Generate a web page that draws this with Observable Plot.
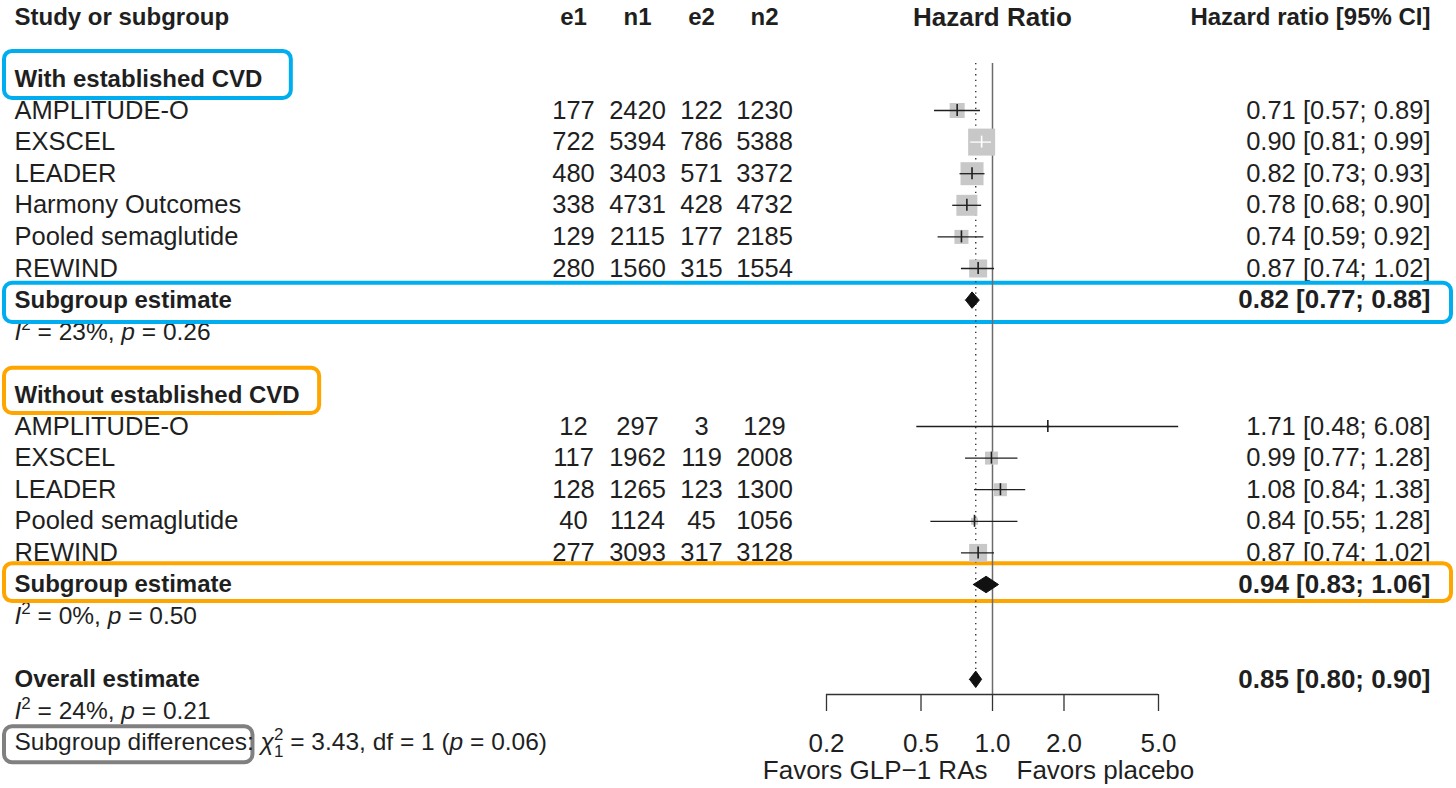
<!DOCTYPE html>
<html><head><meta charset="utf-8">
<script src="https://cdn.jsdelivr.net/npm/d3@7"></script>
<script src="https://cdn.jsdelivr.net/npm/@observablehq/plot@0.6"></script>
<style>body{margin:0;background:#fff}#chart svg{display:block}</style>
</head><body><div id="chart"></div>
<script>
// ---------------- data ----------------
const cvdStudies = ["AMPLITUDE-O","EXSCEL","LEADER","Harmony Outcomes","Pooled semaglutide","REWIND"];
const cvdE1 = [177,722,480,338,129,280];
const cvdN1 = [2420,5394,3403,4731,2115,1560];
const cvdE2 = [122,786,571,428,177,315];
const cvdN2 = [1230,5388,3372,4732,2185,1554];
const cvdHR = [0.71,0.90,0.82,0.78,0.74,0.87];
const cvdLower = [0.57,0.81,0.73,0.68,0.59,0.74];
const cvdUpper = [0.89,0.99,0.93,0.90,0.92,1.02];
const cvdWeight = [7.1,23.0,16.7,13.9,6.2,10.2];

const noCvdStudies = ["AMPLITUDE-O","EXSCEL","LEADER","Pooled semaglutide","REWIND"];
const noCvdE1 = [12,117,128,40,277];
const noCvdN1 = [297,1962,1265,1124,3093];
const noCvdE2 = [3,119,123,45,317];
const noCvdN2 = [129,2008,1300,1056,3128];
const noCvdHR = [1.71,0.99,1.08,0.84,0.87];
const noCvdLower = [0.48,0.77,0.84,0.55,0.74];
const noCvdUpper = [6.08,1.28,1.38,1.28,1.02];
const noCvdWeight = [0.3,5.3,5.3,1.5,10.2];

const groupLabels = ["With established CVD","Without established CVD"];
const subgroupHR = [0.82,0.94];
const subgroupLower = [0.77,0.83];
const subgroupUpper = [0.88,1.06];
const subgroupI2 = [23,0];
const subgroupP = [0.26,0.50];

const overallHR = 0.85, overallLower = 0.80, overallUpper = 0.90;
const overallI2 = 24, overallP = 0.21;
const diffChi2 = 3.43, diffDf = 1, diffP = 0.06;

const columnKeys = ["e1","n1","e2","n2"];
const headerLabels = ["Study or subgroup","Hazard Ratio","Hazard ratio [95% CI]"];
const xTicks = [0.2,0.5,1,2,5];
const favorsLabels = ["Favors GLP\u22121 RAs","Favors placebo"];

// ---------------- layout constants ----------------
const W = 1456, H = 788;
const ROW0 = 15.2, ROWH = 31.6, NROWS = 24;
const AXIS_PX = 694;
const axisRow = (AXIS_PX - ROW0) / ROWH;
const X_RANGE = [826, 1158];
const COLS = [573, 637, 701, 764];
const LEFT = 14, HR_RIGHT = 26;
const REG = 25.5, BOLD = 24, SMALL = 24.5, BIG = 26;
const INK = "#1f1f1f";
const FONT = "'Liberation Sans', Arial, Helvetica, sans-serif";
const MAXW = d3.max([...cvdWeight, ...noCvdWeight]);
const MAX_SIDE = 27;

// ---------------- build rows ----------------
const fmt2 = d => d.toFixed(2);
const ci = (h, l, u) => `${fmt2(h)} [${fmt2(l)}; ${fmt2(u)}]`;
const rows = [];
let r = 2;
function addGroup(gi, S, E1, N1, E2, N2, HR, LO, HI, WT) {
  rows.push({row: r++, kind: "group", label: groupLabels[gi], gi});
  S.forEach((s, i) => rows.push({row: r++, kind: "study", label: s, e1: E1[i], n1: N1[i], e2: E2[i], n2: N2[i],
    hr: HR[i], lo: LO[i], hi: HI[i], w: WT[i], ci: ci(HR[i], LO[i], HI[i])}));
  rows.push({row: r++, kind: "subgroup", label: "Subgroup estimate", gi, hr: subgroupHR[gi], lo: subgroupLower[gi], hi: subgroupUpper[gi],
    ci: ci(subgroupHR[gi], subgroupLower[gi], subgroupUpper[gi])});
  rows.push({row: r++, kind: "het", label: `I² = ${subgroupI2[gi]}%, p = ${fmt2(subgroupP[gi])}`});
  r++;
}
addGroup(0, cvdStudies, cvdE1, cvdN1, cvdE2, cvdN2, cvdHR, cvdLower, cvdUpper, cvdWeight);
addGroup(1, noCvdStudies, noCvdE1, noCvdN1, noCvdE2, noCvdN2, noCvdHR, noCvdLower, noCvdUpper, noCvdWeight);
rows.push({row: r++, kind: "overall", label: "Overall estimate", hr: overallHR, lo: overallLower, hi: overallUpper, ci: ci(overallHR, overallLower, overallUpper)});
rows.push({row: r++, kind: "het", label: `I² = ${overallI2}%, p = ${fmt2(overallP)}`});
rows.push({row: r++, kind: "diff", label: `Subgroup differences: χ²₁ = ${diffChi2.toFixed(2)}, df = ${diffDf} (p = ${fmt2(diffP)})`});
const favorsRow = r - 0.1;

const studyRows = rows.filter(d => d.kind === "study");
const summaryRows = rows.filter(d => d.kind === "subgroup" || d.kind === "overall");
const boldRows = rows.filter(d => d.kind === "group" || d.kind === "subgroup" || d.kind === "overall");
const hetRows = rows.filter(d => d.kind === "het");
const diffRows = rows.filter(d => d.kind === "diff");

// helper scales mirroring the Plot scales (to decide whether a CI hides inside its square)
const xs = d3.scaleLog([xTicks[0], xTicks[xTicks.length - 1]], X_RANGE);
const sideOf = w => MAX_SIDE * Math.sqrt(w / MAXW);
studyRows.forEach(d => {
  const cx = xs(d.hr), h = sideOf(d.w) / 2;
  d.inside = xs(d.lo) >= cx - h && xs(d.hi) <= cx + h;
});

// diamonds
const diamonds = summaryRows.flatMap((d, k) => {
  const hh = 0.26;
  return [
    {id: k, x: d.lo, y: d.row}, {id: k, x: d.hr, y: d.row - hh},
    {id: k, x: d.hi, y: d.row}, {id: k, x: d.hr, y: d.row + hh}, {id: k, x: d.lo, y: d.row}
  ];
});

// text width measurement for the annotation boxes
const ctx = document.createElement("canvas").getContext("2d");
function textWidth(str, size, weight) {
  ctx.font = `${weight} ${size}px "Liberation Sans"`;
  return ctx.measureText(str).width;
}
const rowOf = (kind, gi) => rows.find(d => d.kind === kind && (gi === undefined || d.gi === gi)).row;
const annotations = [
  {row: rowOf("group", 0), up: 0.87, down: 0.62, color: "#00AEEF", right: LEFT + textWidth(groupLabels[0], BOLD, "bold") + 29},
  {row: rowOf("subgroup", 0), up: 0.53, down: 0.71, color: "#00AEEF"},
  {row: rowOf("group", 1), up: 0.84, down: 0.59, color: "#FFA500", right: LEFT + textWidth(groupLabels[1], BOLD, "bold") + 20},
  {row: rowOf("subgroup", 1), up: 0.66, down: 0.54, color: "#FFA500"},
  {row: rowOf("diff"), up: 0.5, down: 0.64, color: "#808080", right: LEFT + textWidth("Subgroup differences", SMALL, "normal") + 6},
];
const boxMarks = annotations.map(a => Plot.rect([a], {
  y1: d => d.row - d.up, y2: d => d.row + d.down,
  insetLeft: 4, insetRight: a.right ? W - a.right : 5,
  rx: 8, fill: "white", stroke: a.color, strokeWidth: 4
}));

// ---------------- plot ----------------
const plot = Plot.plot({
  width: W, height: H,
  marginTop: 0, marginLeft: 0, marginRight: 0, marginBottom: H - AXIS_PX,
  style: {fontFamily: FONT, color: INK, background: "white"},
  x: {type: "log", domain: [xTicks[0], xTicks[xTicks.length - 1]], range: X_RANGE, label: null},
  y: {domain: [0, NROWS], range: [ROW0, ROW0 + NROWS * ROWH], axis: null},
  r: {type: "sqrt", domain: [0, MAXW], range: [0, MAX_SIDE / Math.sqrt(Math.PI)]},
  marks: [
    // rows that can be partially covered by annotation boxes
    Plot.text(studyRows, {y: "row", text: "label", frameAnchor: "left", dx: LEFT, textAnchor: "start", fontSize: REG, fill: INK}),
    Plot.text(hetRows, {y: "row", text: "label", frameAnchor: "left", dx: LEFT, textAnchor: "start", fontSize: SMALL, fill: INK}),
    ...columnKeys.map((k, j) => Plot.text(studyRows, {y: "row", text: d => String(d[k]), frameAnchor: "left", dx: COLS[j], textAnchor: "middle", fontSize: REG, fill: INK})),
    Plot.text(studyRows, {y: "row", text: "ci", frameAnchor: "right", dx: -HR_RIGHT, textAnchor: "end", fontSize: REG, fill: INK}),
    // annotation boxes
    ...boxMarks,
    // reference lines
    Plot.ruleX([1], {x: d => d, y1: 1.51, y2: axisRow, stroke: "#6b6b6b", strokeWidth: 1.5}),
    Plot.ruleX([overallHR], {x: d => d, y1: 1.51, y2: 21.3, stroke: "#333", strokeWidth: 1.4, strokeDasharray: "1.3,4.3"}),
    // study squares and CIs
    Plot.dot(studyRows, {x: "hr", y: "row", r: "w", symbol: "square", fill: "#c8c8c8"}),
    Plot.ruleY(studyRows.filter(d => !d.inside), {y: "row", x1: "lo", x2: "hi", stroke: INK, strokeWidth: 1.3}),
    Plot.ruleY(studyRows.filter(d => d.inside), {y: "row", x1: "lo", x2: "hi", stroke: "white", strokeWidth: 1.3}),
    Plot.ruleX(studyRows.filter(d => !d.inside), {x: "hr", y1: d => d.row - 0.19, y2: d => d.row + 0.19, stroke: INK, strokeWidth: 1.6}),
    Plot.ruleX(studyRows.filter(d => d.inside), {x: "hr", y1: d => d.row - 0.19, y2: d => d.row + 0.19, stroke: "white", strokeWidth: 1.6}),
    // diamonds
    Plot.line(diamonds, {x: "x", y: "y", z: "id", fill: "#111", stroke: "#111", strokeWidth: 1}),
    // texts drawn above the boxes
    Plot.text(diffRows, {y: "row", text: "label", frameAnchor: "left", dx: LEFT, textAnchor: "start", fontSize: SMALL, fill: INK}),
    Plot.text(boldRows, {y: "row", text: "label", frameAnchor: "left", dx: LEFT, textAnchor: "start", fontSize: BOLD, fontWeight: "bold", fill: INK}),
    Plot.text(summaryRows, {y: "row", text: "ci", frameAnchor: "right", dx: -HR_RIGHT, textAnchor: "end", fontSize: BIG, fontWeight: "bold", fill: INK}),
    // headers
    Plot.text([headerLabels[0]], {y: () => 0.06, text: d => d, frameAnchor: "left", dx: LEFT, textAnchor: "start", fontSize: BOLD, fontWeight: "bold", fill: INK}),
    ...columnKeys.map((k, j) => Plot.text([k], {y: () => 0.06, text: d => d, frameAnchor: "left", dx: COLS[j], textAnchor: "middle", fontSize: BOLD, fontWeight: "bold", fill: INK})),
    Plot.text([headerLabels[1]], {x: () => 1, y: () => 0.06, text: d => d, fontSize: BIG, fontWeight: "bold", fill: INK}),
    Plot.text([headerLabels[2]], {y: () => 0.06, text: d => d, frameAnchor: "right", dx: -HR_RIGHT, textAnchor: "end", fontSize: BOLD, fontWeight: "bold", fill: INK}),
    // axis
    Plot.ruleY([axisRow], {y: d => d, x1: xTicks[0], x2: xTicks[xTicks.length - 1], stroke: "#333", strokeWidth: 1.3}),
    Plot.axisX({anchor: "bottom", ticks: xTicks, tickFormat: d => d.toFixed(1), tickSize: 17, tickPadding: 22, fontSize: BIG, label: null, stroke: "#333", strokeWidth: 1.3, fill: INK}),
    Plot.text([favorsLabels[0]], {x: () => 1, y: () => favorsRow, text: d => d, dx: -5, textAnchor: "end", fontSize: BIG, fill: INK}),
    Plot.text([favorsLabels[1]], {x: () => 1, y: () => favorsRow, text: d => d, dx: 24, textAnchor: "start", fontSize: BIG, fill: INK})
  ]
});
document.getElementById("chart").appendChild(plot);

// ---------------- rich text (italics, super/subscripts) ----------------
const NS = "http://www.w3.org/2000/svg";
function rebuild(el, parts) {
  while (el.firstChild) el.removeChild(el.firstChild);
  parts.forEach(p => {
    const t = document.createElementNS(NS, "tspan");
    t.textContent = p.t;
    if (p.italic) t.setAttribute("font-style", "italic");
    if (p.size) t.setAttribute("font-size", p.size);
    if (p.dy) t.setAttribute("dy", p.dy);
    if (p.dx) t.setAttribute("dx", p.dx);
    el.appendChild(t);
  });
}
const SUP = 17, SUPW = 0.556 * SUP;
plot.querySelectorAll("text").forEach(el => {
  const s = el.textContent;
  let m = s.match(/^I² = (.*), p = (.*)$/);
  if (m) {
    rebuild(el, [
      {t: "I", italic: true},
      {t: "2", size: SUP, dy: -10},
      {t: ` = ${m[1]}, `, dy: 10},
      {t: "p", italic: true},
      {t: ` = ${m[2]}`}
    ]);
    return;
  }
  m = s.match(/^(Subgroup differences:) χ²₁ = (.*) \(p = (.*)\)$/);
  if (m) {
    rebuild(el, [
      {t: m[1] + " "},
      {t: "χ", italic: true},
      {t: "2", size: SUP, dy: -10},
      {t: "1", size: SUP, dx: -SUPW, dy: 17},
      {t: ` = ${m[2]} (`, dy: -7},
      {t: "p", italic: true},
      {t: ` = ${m[3]})`}
    ]);
  }
});
</script>
</body></html>
